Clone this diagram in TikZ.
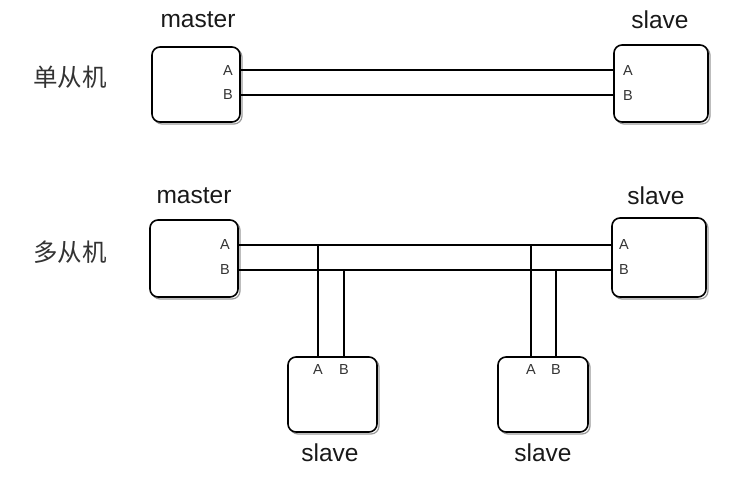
\documentclass[tikz,border=0pt]{standalone}
\usepackage{fontspec}
\setmainfont{Liberation Sans}
\newfontfamily\cjk{Noto Sans CJK SC}
\begin{document}
\begin{tikzpicture}[x=1pt,y=-1pt,
  box/.style={draw=black,line width=1.6pt,rounded corners=8pt,fill=white,inner sep=0pt},
  pin/.style={font=\fontsize{14.5}{14.5}\selectfont,inner sep=0pt,text=black!80},
  title/.style={font=\fontsize{24.5}{24.5}\selectfont,inner sep=0pt,text=black!90},
  zh/.style={font=\cjk\fontsize{24.5}{24.5}\selectfont,inner sep=0pt,text=black!80},
  wire/.style={line width=2.2pt,black}]
\useasboundingbox (0,0) rectangle (734,495);
% sketch-like shadow strokes
\foreach \cx/\cy/\w/\h in {196/84.5/88/75, 661/83.5/94/77, 194/258.5/88/77, 659/257.5/94/79, 332.5/394.5/89/75, 543/394.5/90/75}{
  \draw[black!40,line width=1.2pt,rounded corners=8pt] (\cx-\w/2+2,\cy-\h/2+2) rectangle (\cx+\w/2+2,\cy+\h/2+2);
}
% boxes
\node[box,minimum width=88,minimum height=75] (m1) at (196,84.5) {};
\node[box,minimum width=94,minimum height=77] (s1) at (661,83.5) {};
\node[box,minimum width=88,minimum height=77] (m2) at (194,258.5) {};
\node[box,minimum width=94,minimum height=79] (s2) at (659,257.5) {};
\node[box,minimum width=89,minimum height=75] (b1) at (332.5,394.5) {};
\node[box,minimum width=90,minimum height=75] (b2) at (543,394.5) {};
% titles
\node[title] (tm1) at (198,20) {master};
\node[title] (ts1) at (660,20) {slave};
\node[title] (tm2) at (194,196) {master};
\node[title] (ts2) at (656,196) {slave};
\node[title] (tb1) at (330,453) {slave};
\node[title] (tb2) at (543,453) {slave};
\node[zh] (z1) at (70,77) {单从机};
\node[zh] (z2) at (70,252) {多从机};
% pins
\node[pin] (m1A) at (228,71) {A};
\node[pin] (m1B) at (228,95) {B};
\node[pin] (s1A) at (628,71) {A};
\node[pin] (s1B) at (628,96) {B};
\node[pin] (m2A) at (225,245) {A};
\node[pin] (m2B) at (225,270) {B};
\node[pin] (s2A) at (624,245) {A};
\node[pin] (s2B) at (624,270) {B};
\node[pin] (b1A) at (318,370) {A};
\node[pin] (b1B) at (344,370) {B};
\node[pin] (b2A) at (531,370) {A};
\node[pin] (b2B) at (556,370) {B};
% wires
\coordinate (c1A) at (m1.east |- 0,70);
\coordinate (c1Ae) at (s1.west |- 0,70);
\coordinate (c1B) at (m1.east |- 0,95);
\coordinate (c1Be) at (s1.west |- 0,95);
\draw[wire] (c1A) -- (c1Ae);
\draw[wire] (c1B) -- (c1Be);
\coordinate (c2A) at (m2.east |- 0,245);
\coordinate (c2Ae) at (s2.west |- 0,245);
\coordinate (c2B) at (m2.east |- 0,270);
\coordinate (c2Be) at (s2.west |- 0,270);
\draw[wire] (c2A) -- (c2Ae);
\draw[wire] (c2B) -- (c2Be);
\draw[wire] (b1A |- c2A) -- (b1A |- b1.north);
\draw[wire] (b1B |- c2B) -- (b1B |- b1.north);
\draw[wire] (b2A |- c2A) -- (b2A |- b2.north);
\draw[wire] (b2B |- c2B) -- (b2B |- b2.north);
\end{tikzpicture}
\end{document}
